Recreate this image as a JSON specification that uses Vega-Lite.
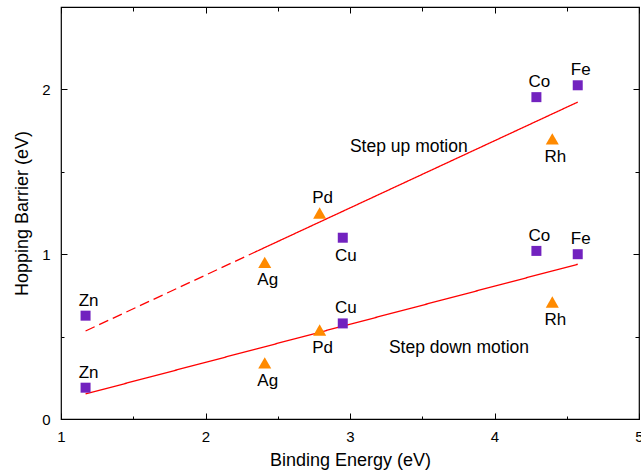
{
  "$schema": "https://vega.github.io/schema/vega-lite/v6.json",
  "width": 578,
  "height": 412,
  "autosize": "none",
  "padding": {"left": 61, "top": 7, "right": 2, "bottom": 52},
  "background": "white",
  "config": {
    "view": {"stroke": "#000", "strokeWidth": 1.2},
    "font": "Liberation Sans",
    "axis": {
      "grid": false, "domain": false, "tickColor": "#000", "labelColor": "#000", "titleColor": "#000",
      "labelFont": "Liberation Sans", "titleFont": "Liberation Sans", "titleFontWeight": "normal",
      "labelFontSize": 15, "titleFontSize": 18, "tickWidth": 1
    }
  },
  "datasets": {
    "fits": [
      {"seg": "up1", "style": "dashed", "x": 1.17, "y": 0.534},
      {"seg": "up1", "style": "dashed", "x": 2.36, "y": 1.02},
      {"seg": "up2", "style": "solid", "x": 2.36, "y": 1.02},
      {"seg": "up2", "style": "solid", "x": 4.576, "y": 1.923},
      {"seg": "down", "style": "solid", "x": 1.17, "y": 0.152},
      {"seg": "down", "style": "solid", "x": 4.576, "y": 0.939}
    ],
    "points": [
      {"metal": "Zn", "motion": "up", "kind": "square", "x": 1.17, "y": 0.627, "side": "above"},
      {"metal": "Ag", "motion": "up", "kind": "triangle", "x": 2.41, "y": 0.95, "side": "below"},
      {"metal": "Pd", "motion": "up", "kind": "triangle", "x": 2.79, "y": 1.25, "side": "above"},
      {"metal": "Cu", "motion": "up", "kind": "square", "x": 2.95, "y": 1.10, "side": "below"},
      {"metal": "Co", "motion": "up", "kind": "square", "x": 4.29, "y": 1.953, "side": "above"},
      {"metal": "Fe", "motion": "up", "kind": "square", "x": 4.576, "y": 2.025, "side": "above"},
      {"metal": "Rh", "motion": "up", "kind": "triangle", "x": 4.40, "y": 1.70, "side": "below"},
      {"metal": "Zn", "motion": "down", "kind": "square", "x": 1.17, "y": 0.19, "side": "above"},
      {"metal": "Ag", "motion": "down", "kind": "triangle", "x": 2.41, "y": 0.34, "side": "below"},
      {"metal": "Pd", "motion": "down", "kind": "triangle", "x": 2.79, "y": 0.54, "side": "below"},
      {"metal": "Cu", "motion": "down", "kind": "square", "x": 2.95, "y": 0.58, "side": "above"},
      {"metal": "Co", "motion": "down", "kind": "square", "x": 4.29, "y": 1.02, "side": "above"},
      {"metal": "Fe", "motion": "down", "kind": "square", "x": 4.576, "y": 1.00, "side": "above"},
      {"metal": "Rh", "motion": "down", "kind": "triangle", "x": 4.40, "y": 0.71, "side": "below"}
    ],
    "notes": [
      {"text": "Step up motion", "x": 3.407, "y": 1.651},
      {"text": "Step down motion", "x": 3.754, "y": 0.431}
    ]
  },
  "layer": [
    {
      "data": {"name": "fits"},
      "mark": {"type": "line", "color": "#ff0000", "strokeWidth": 1.3},
      "encoding": {
        "x": {"field": "x", "type": "quantitative", "scale": {"domain": [1, 5], "nice": false, "zero": false},
          "axis": {"title": "Binding Energy (eV)", "orient": "bottom", "values": [1, 1.5, 2, 2.5, 3, 3.5, 4, 4.5, 5],
            "labelExpr": "datum.value % 1 === 0 ? format(datum.value, 'd') : ''",
            "tickSize": {"condition": {"test": "datum.value % 1 !== 0", "value": -3}, "value": -6},
            "labelPadding": 16, "labelFlush": false, "titleY": 46, "titleBaseline": "alphabetic"}},
        "y": {"field": "y", "type": "quantitative", "scale": {"domain": [0, 2.5], "nice": false},
          "axis": {"title": "Hopping Barrier (eV)", "orient": "left", "values": [0, 0.5, 1, 1.5, 2, 2.5],
            "labelExpr": "datum.value % 1 === 0 ? format(datum.value, 'd') : ''",
            "tickSize": {"condition": {"test": "datum.value % 1 !== 0", "value": -3}, "value": -6},
            "labelPadding": 17, "labelFlush": false, "titleX": -34, "titleBaseline": "alphabetic"}},
        "detail": {"field": "seg"},
        "strokeDash": {"field": "style", "type": "nominal", "scale": {"domain": ["dashed", "solid"], "range": [[10, 5], [1, 0]]}, "legend": null}
      }
    },
    {
      "data": {"name": "points"},
      "mark": {"type": "point", "filled": true, "opacity": 1},
      "encoding": {
        "x": {"field": "x", "type": "quantitative", "scale": {"domain": [1, 5], "nice": false, "zero": false},
          "axis": {"title": null, "orient": "top", "values": [1, 1.5, 2, 2.5, 3, 3.5, 4, 4.5, 5], "labels": false,
            "tickSize": {"condition": {"test": "datum.value % 1 !== 0", "value": -4}, "value": -6}}},
        "y": {"field": "y", "type": "quantitative", "scale": {"domain": [0, 2.5], "nice": false},
          "axis": {"title": null, "orient": "right", "values": [0, 0.5, 1, 1.5, 2, 2.5], "labels": false,
            "tickSize": {"condition": {"test": "datum.value % 1 !== 0", "value": -4}, "value": -6}}},
        "shape": {"field": "kind", "type": "nominal", "scale": {"domain": ["square", "triangle"], "range": ["square", "triangle-up"]}, "legend": null},
        "color": {"field": "kind", "type": "nominal", "scale": {"domain": ["square", "triangle"], "range": ["#7222bf", "#ff8a00"]}, "legend": null},
        "size": {"field": "kind", "type": "nominal", "scale": {"domain": ["square", "triangle"], "range": [100, 170]}, "legend": null}
      }
    },
    {
      "data": {"name": "points"},
      "transform": [{"filter": "datum.side === 'above'"}],
      "mark": {"type": "text", "fontSize": 17, "dx": 3, "dy": -10, "baseline": "alphabetic", "align": "center", "color": "#000"},
      "encoding": {
        "x": {"field": "x", "type": "quantitative", "scale": {"domain": [1, 5], "nice": false, "zero": false}, "axis": null},
        "y": {"field": "y", "type": "quantitative", "scale": {"domain": [0, 2.5], "nice": false}, "axis": null},
        "text": {"field": "metal"}
      }
    },
    {
      "data": {"name": "points"},
      "transform": [{"filter": "datum.side === 'below'"}],
      "mark": {"type": "text", "fontSize": 17, "dx": 3, "dy": 23, "baseline": "alphabetic", "align": "center", "color": "#000"},
      "encoding": {
        "x": {"field": "x", "type": "quantitative", "scale": {"domain": [1, 5], "nice": false, "zero": false}, "axis": null},
        "y": {"field": "y", "type": "quantitative", "scale": {"domain": [0, 2.5], "nice": false}, "axis": null},
        "text": {"field": "metal"}
      }
    },
    {
      "data": {"name": "notes"},
      "mark": {"type": "text", "fontSize": 17.5, "baseline": "middle", "align": "center", "color": "#000"},
      "encoding": {
        "x": {"field": "x", "type": "quantitative", "scale": {"domain": [1, 5], "nice": false, "zero": false}, "axis": null},
        "y": {"field": "y", "type": "quantitative", "scale": {"domain": [0, 2.5], "nice": false}, "axis": null},
        "text": {"field": "text"}
      }
    }
  ],
  "resolve": {"axis": {"x": "independent", "y": "independent"}}
}
